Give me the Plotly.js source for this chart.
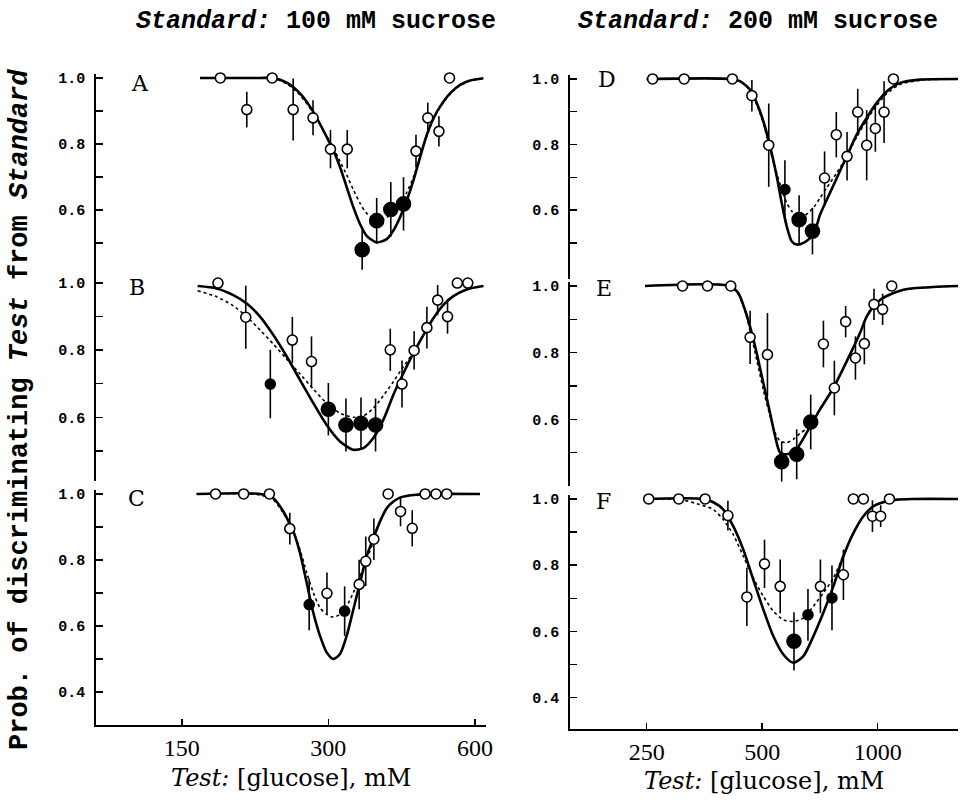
<!DOCTYPE html>
<html>
<head>
<meta charset="utf-8">
<script src="https://cdn.plot.ly/plotly-3.0.1.min.js"></script>
<style>html,body{margin:0;padding:0;background:#fff}#plot{width:960px;height:800px}</style>
</head>
<body>
<div id="plot"></div>
<script>
// ---------- Panel A (Standard 100 mM sucrose) ----------
const aOpenX = [180, 204, 230, 254, 279, 303, 328, 454, 480, 506, 532];
const aOpenY = [1.0, 0.904, 1.0, 0.904, 0.879, 0.784, 0.784, 0.778, 0.879, 0.838, 1.0];
const aOpenErr = [0, 0.054, 0, 0.094, 0.053, 0.058, 0.058, 0.05, 0.046, 0.046, 0];
const aBigX = [352, 377, 403, 428];
const aBigY = [0.479, 0.567, 0.601, 0.618];
const aBigErr = [0.061, 0.069, 0.083, 0.081];
const aFitX = [163.5, 217.2, 231.3, 246.4, 262.4, 279.4, 297.6, 307.1, 317.0, 327.1, 337.6, 348.4, 359.6, 377.0, 395.3, 408.0, 421.0, 434.6, 448.5, 462.9, 477.5, 492.9, 508.7, 533.3, 559.1, 586.1, 624.3];
const aSolidY = [1.0, 1.0, 1.0, 0.986, 0.953, 0.897, 0.821, 0.781, 0.730, 0.669, 0.608, 0.557, 0.521, 0.501, 0.511, 0.537, 0.577, 0.628, 0.689, 0.760, 0.826, 0.877, 0.913, 0.953, 0.979, 0.992, 0.999];
const aDotY = [1.0, 1.0, 0.999, 0.982, 0.948, 0.894, 0.823, 0.788, 0.747, 0.706, 0.661, 0.620, 0.589, 0.570, 0.577, 0.596, 0.620, 0.653, 0.699, 0.760, 0.823, 0.874, 0.911, 0.951, 0.977, 0.991, 0.998];

// ---------- Panel B ----------
const bOpenX = [178, 203, 253, 277, 402, 425, 450, 478, 503, 527, 552, 580];
const bOpenY = [1.0, 0.898, 0.830, 0.766, 0.801, 0.699, 0.799, 0.867, 0.949, 0.900, 1.0, 1.0];
const bOpenErr = [0, 0.094, 0.069, 0.075, 0.063, 0.07, 0.057, 0.062, 0.045, 0.051, 0, 0];
const bBigX = [300, 326, 350, 375];
const bBigY = [0.624, 0.577, 0.582, 0.577];
const bBigErr = [0.078, 0.079, 0.077, 0.079];
const bSmallX = [228];
const bSmallY = [0.699];
const bSmallErr = [0.102];
const bFitX = [161.7, 176.9, 191.4, 203.9, 217.2, 231.3, 246.4, 262.4, 279.4, 297.6, 317.0, 337.6, 354.0, 371.1, 389.0, 408.0, 427.7, 448.5, 470.1, 492.9, 516.8, 541.7, 577.0, 624.3];
const bSolidY = [0.991, 0.984, 0.964, 0.939, 0.900, 0.845, 0.781, 0.711, 0.642, 0.577, 0.528, 0.503, 0.508, 0.538, 0.592, 0.667, 0.731, 0.791, 0.845, 0.895, 0.935, 0.961, 0.981, 0.991];
const bDotY = [0.977, 0.959, 0.932, 0.900, 0.860, 0.818, 0.773, 0.729, 0.684, 0.642, 0.612, 0.600, 0.604, 0.627, 0.664, 0.706, 0.751, 0.793, 0.845, 0.895, 0.935, 0.961, 0.981, 0.991];

// ---------- Panel C ----------
const cOpenX = [176, 201, 227, 250, 298, 347, 358, 372, 398, 422, 446, 474, 499, 525];
const cOpenY = [1.0, 1.0, 1.0, 0.895, 0.699, 0.726, 0.796, 0.863, 1.0, 0.947, 0.896, 1.0, 1.0, 1.0];
const cOpenErr = [0, 0, 0, 0.048, 0.063, 0.075, 0.075, 0.063, 0, 0.045, 0.055, 0, 0, 0];
const cSmallX = [274, 324];
const cSmallY = [0.665, 0.645];
const cSmallErr = [0.078, 0.075];
const cFitX = [160.9, 217.2, 231.3, 242.5, 254.2, 262.4, 270.8, 279.4, 288.4, 297.6, 307.1, 317.0, 327.1, 337.6, 348.4, 359.6, 371.1, 383.0, 395.3, 408.0, 421.0, 448.5, 492.9, 614.5];
const cSolidY = [1.0, 1.0, 0.987, 0.947, 0.886, 0.821, 0.731, 0.640, 0.570, 0.520, 0.500, 0.515, 0.570, 0.650, 0.731, 0.811, 0.866, 0.917, 0.957, 0.977, 0.989, 0.997, 1.0, 1.0];
const cDotY = [1.0, 0.997, 0.982, 0.942, 0.886, 0.831, 0.761, 0.701, 0.655, 0.635, 0.627, 0.635, 0.660, 0.701, 0.751, 0.801, 0.856, 0.917, 0.957, 0.977, 0.989, 0.997, 1.0, 1.0];

// ---------- Panel D (Standard 200 mM sucrose) ----------
const dOpenX = [259, 313, 418, 470, 520, 727, 780, 832, 887, 936, 986, 1039, 1099];
const dOpenY = [1.0, 1.0, 1.0, 0.949, 0.798, 0.698, 0.830, 0.764, 0.899, 0.798, 0.849, 0.899, 1.0];
const dOpenErr = [0, 0, 0, 0.048, 0.127, 0.081, 0.069, 0.074, 0.071, 0.107, 0.071, 0.094, 0];
const dBigX = [624, 676];
const dBigY = [0.571, 0.536];
const dBigErr = [0.074, 0.071];
const dSmallX = [573];
const dSmallY = [0.663];
const dSmallErr = [0.089];
const dFitX = [250.0, 412.2, 437.7, 464.8, 483.7, 503.4, 524.0, 545.5, 562.1, 579.2, 596.8, 615.0, 640.1, 679.6, 707.4, 736.2, 781.9, 830.2, 881.5, 935.9, 993.8, 1055.3, 1143.5, 1289.4, 1639];
const dSolidY = [1.0, 1.0, 0.993, 0.967, 0.927, 0.871, 0.795, 0.703, 0.622, 0.551, 0.505, 0.495, 0.500, 0.525, 0.586, 0.631, 0.697, 0.764, 0.830, 0.881, 0.927, 0.962, 0.988, 0.998, 1.0];
const dDotY = [1.0, 1.0, 0.993, 0.965, 0.922, 0.866, 0.785, 0.713, 0.663, 0.622, 0.597, 0.581, 0.581, 0.607, 0.637, 0.668, 0.713, 0.764, 0.823, 0.874, 0.919, 0.955, 0.983, 0.996, 1.0];

// ---------- Panel E ----------
const eOpenX = [310, 360, 414, 465, 516, 722, 771, 825, 875, 923, 978, 1030, 1088];
const eOpenY = [1.0, 1.0, 1.0, 0.846, 0.794, 0.826, 0.694, 0.893, 0.784, 0.827, 0.945, 0.930, 1.0];
const eOpenErr = [0, 0, 0, 0.080, 0.125, 0.07, 0.082, 0.047, 0.065, 0.062, 0.047, 0.047, 0];
const eBigX = [562, 615, 669];
const eBigY = [0.473, 0.495, 0.592];
const eBigErr = [0.06, 0.075, 0.082];
const eSolidX = [247.5, 412.2, 433.4, 451.1, 464.8, 483.7, 503.4, 524.0, 540.1, 556.6, 579.2, 615.0, 653.0, 707.4, 766.3, 830.2, 899.4, 935.9, 974.3, 1014, 1055.3, 1143.5, 1239, 1396.6, 1639];
const eSolidY = [1.0, 1.0, 0.978, 0.928, 0.878, 0.799, 0.709, 0.620, 0.550, 0.500, 0.495, 0.512, 0.560, 0.630, 0.694, 0.774, 0.859, 0.908, 0.938, 0.958, 0.970, 0.986, 0.993, 0.997, 1.0];
const eDotX = [247.5, 412.2, 433.4, 451.1, 464.8, 483.7, 503.4, 524.0, 540.1, 556.6, 579.2, 602.8, 627.4, 653.0, 707.4, 766.3, 830.2, 899.4, 935.9, 974.3, 1014, 1055.3, 1143.5, 1239, 1396.6, 1639];
const eDotY = [1.0, 1.0, 0.975, 0.923, 0.868, 0.779, 0.689, 0.610, 0.560, 0.535, 0.530, 0.540, 0.558, 0.572, 0.631, 0.694, 0.774, 0.859, 0.908, 0.938, 0.958, 0.970, 0.986, 0.993, 0.997, 1.0];

// ---------- Panel F ----------
const fOpenX = [253, 303, 355, 407, 456, 507, 557, 709, 814, 864, 918, 969, 1018, 1073];
const fOpenY = [1.0, 1.0, 1.0, 0.950, 0.704, 0.804, 0.736, 0.736, 0.771, 1.0, 1.0, 0.948, 0.948, 1.0];
const fOpenErr = [0, 0, 0, 0.045, 0.088, 0.073, 0.081, 0.081, 0.076, 0, 0, 0.048, 0.033, 0];
const fBigX = [605];
const fBigY = [0.570];
const fBigErr = [0.088];
const fSmallX = [658, 760];
const fSmallY = [0.650, 0.701];
const fSmallErr = [0.078, 0.098];
const fSolidX = [245.1, 351.3, 372.9, 396.0, 420.5, 446.4, 474.0, 503.4, 534.6, 567.7, 602.8, 640.1, 679.6, 721.6, 766.3, 813.7, 864.2, 917.6, 974.3, 1034.4, 1120.9, 1238.4, 1639];
const fSolidY = [1.0, 1.0, 0.990, 0.968, 0.917, 0.847, 0.756, 0.666, 0.585, 0.530, 0.505, 0.525, 0.585, 0.656, 0.736, 0.827, 0.897, 0.948, 0.978, 0.990, 0.998, 1.0, 1.0];
const fDotX = [245.1, 305.2, 337.5, 372.9, 396.0, 420.5, 446.4, 474.0, 503.4, 534.6, 567.7, 602.8, 640.1, 679.6, 721.6, 766.3, 813.7, 864.2, 917.6, 974.3, 1034.4, 1120.9, 1238.4, 1639];
const fDotY = [1.0, 0.998, 0.986, 0.968, 0.937, 0.892, 0.827, 0.761, 0.706, 0.661, 0.635, 0.630, 0.640, 0.676, 0.716, 0.761, 0.829, 0.897, 0.948, 0.978, 0.990, 0.998, 1.0, 1.0];

// ---------- Tick labels / text ----------
const leftTickVals = [150, 300, 600];
const leftTickText = ['150', '300', '600'];
const rightTickVals = [250, 500, 1000];
const rightTickText = ['250', '500', '1000'];
const yTickValsTop = [0.5, 0.6, 0.7, 0.8, 0.9, 1.0];
const yTickTextTop = ['', '0.6', '', '0.8', '', '1.0'];
const yTickValsBottom = [0.4, 0.5, 0.6, 0.7, 0.8, 0.9, 1.0];
const yTickTextBottom = ['0.4', '', '0.6', '', '0.8', '', '1.0'];
const panelLetters = ['A', 'B', 'C', 'D', 'E', 'F'];

// ---------- build traces ----------
const traces = [];
function fit(x, y, ax, dotted) {
  traces.push({x: x, y: y, xaxis: ax[0], yaxis: ax[1], mode: 'lines', type: 'scatter',
    line: dotted ? {color: '#000', width: 1.6, dash: 'dot', shape: 'spline', smoothing: 0.7}
                 : {color: '#000', width: 2.6, shape: 'spline', smoothing: 0.7},
    hoverinfo: 'skip'});
}
function pts(x, y, e, ax, kind) {
  const open = kind === 'open';
  traces.push({x: x, y: y, xaxis: ax[0], yaxis: ax[1], mode: 'markers', type: 'scatter', cliponaxis: false,
    error_y: {type: 'data', array: e, visible: true, color: '#000', thickness: 1.6, width: 0},
    marker: {symbol: 'circle', size: open ? 10 : (kind === 'big' ? 14 : 10),
      color: open ? '#fff' : '#000', line: {color: '#000', width: 1.6}}});
}
const axA = ['x', 'y'], axB = ['x2', 'y2'], axC = ['x3', 'y3'], axD = ['x4', 'y4'], axE = ['x5', 'y5'], axF = ['x6', 'y6'];
fit(aFitX, aDotY, axA, true); fit(aFitX, aSolidY, axA, false);
pts(aOpenX, aOpenY, aOpenErr, axA, 'open'); pts(aBigX, aBigY, aBigErr, axA, 'big');
fit(bFitX, bDotY, axB, true); fit(bFitX, bSolidY, axB, false);
pts(bOpenX, bOpenY, bOpenErr, axB, 'open'); pts(bBigX, bBigY, bBigErr, axB, 'big'); pts(bSmallX, bSmallY, bSmallErr, axB, 'small');
fit(cFitX, cDotY, axC, true); fit(cFitX, cSolidY, axC, false);
pts(cOpenX, cOpenY, cOpenErr, axC, 'open'); pts(cSmallX, cSmallY, cSmallErr, axC, 'small');
fit(dFitX, dDotY, axD, true); fit(dFitX, dSolidY, axD, false);
pts(dOpenX, dOpenY, dOpenErr, axD, 'open'); pts(dBigX, dBigY, dBigErr, axD, 'big'); pts(dSmallX, dSmallY, dSmallErr, axD, 'small');
fit(eDotX, eDotY, axE, true); fit(eSolidX, eSolidY, axE, false);
pts(eOpenX, eOpenY, eOpenErr, axE, 'open'); pts(eBigX, eBigY, eBigErr, axE, 'big');
fit(fDotX, fDotY, axF, true); fit(fSolidX, fSolidY, axF, false);
pts(fOpenX, fOpenY, fOpenErr, axF, 'open'); pts(fBigX, fBigY, fBigErr, axF, 'big'); pts(fSmallX, fSmallY, fSmallErr, axF, 'small');

// ---------- layout ----------
const W = 960, H = 800;
const px = v => v / W, py = v => 1 - v / H;
const leftDom = [px(96), px(486)], rightDom = [px(570), px(958)];
const leftRange = [2, 2.8008], rightRange = [2.198, 3.2093];
const tickFontY = {family: 'Liberation Mono', size: 15, color: '#000', weight: 'bold'};
const tickFontX = {family: 'Liberation Serif', size: 24, color: '#000'};

function xHidden(dom, rng, anchor) {
  return {type: 'log', domain: dom, range: rng, anchor: anchor, showline: false, showgrid: false,
    zeroline: false, showticklabels: false, ticks: ''};
}
function xShown(dom, rng, anchor, tv, tt) {
  return {type: 'log', domain: dom, range: rng, anchor: anchor, showline: true, linecolor: '#000', linewidth: 1.8,
    showgrid: false, zeroline: false, ticks: 'inside', ticklen: 6, tickwidth: 1.5, tickcolor: '#000',
    tickvals: tv, ticktext: tt, tickfont: tickFontX, ticklabelstandoff: 0};
}
function yAx(dom, rng, anchor, tv, tt) {
  return {domain: dom, range: rng, anchor: anchor, showline: true, linecolor: '#000', linewidth: 1.8,
    showgrid: false, zeroline: false, ticks: 'inside', ticklen: 7, tickwidth: 1.5, tickcolor: '#000',
    tickvals: tv, ticktext: tt, tickfont: tickFontY, ticklabelstandoff: 6};
}

const letterPos = [[140, 83], [137, 287], [136, 498], [607, 79], [604, 288], [603, 501]];
const annotations = panelLetters.map((L, i) => ({
  text: L, xref: 'paper', yref: 'paper', x: px(letterPos[i][0]), y: py(letterPos[i][1]),
  xanchor: 'center', yanchor: 'middle', showarrow: false,
  font: {family: 'DejaVu Serif', size: 22, color: '#000'}
}));
annotations.push(
  {text: '<i>Standard:</i> 100 mM sucrose', xref: 'paper', yref: 'paper', x: px(316), y: py(22),
   xanchor: 'center', yanchor: 'middle', showarrow: false,
   font: {family: 'Liberation Mono', size: 25, color: '#000', weight: 'bold'}},
  {text: '<i>Standard:</i> 200 mM sucrose', xref: 'paper', yref: 'paper', x: px(758), y: py(22),
   xanchor: 'center', yanchor: 'middle', showarrow: false,
   font: {family: 'Liberation Mono', size: 25, color: '#000', weight: 'bold'}},
  {text: 'Prob. of discriminating <i>Test</i> from <i>Standard</i>', xref: 'paper', yref: 'paper',
   x: px(20), y: py(410), xanchor: 'center', yanchor: 'middle', textangle: -90, showarrow: false,
   font: {family: 'Liberation Mono', size: 27, color: '#000', weight: 'bold'}},
  {text: '<i>Test:</i> [glucose], mM', xref: 'paper', yref: 'paper', x: px(291), y: py(778),
   xanchor: 'center', yanchor: 'middle', showarrow: false,
   font: {family: 'DejaVu Serif', size: 24, color: '#000'}},
  {text: '<i>Test:</i> [glucose], mM', xref: 'paper', yref: 'paper', x: px(764), y: py(781),
   xanchor: 'center', yanchor: 'middle', showarrow: false,
   font: {family: 'DejaVu Serif', size: 24, color: '#000'}}
);

const layout = {
  width: W, height: H, margin: {l: 0, r: 0, t: 0, b: 0},
  paper_bgcolor: '#fff', plot_bgcolor: 'rgba(0,0,0,0)', showlegend: false,
  xaxis: xHidden(leftDom, leftRange, 'y'),
  yaxis: yAx([py(279), py(74)], [0.39, 1.012], 'x', yTickValsTop, yTickTextTop),
  xaxis2: xHidden(leftDom, leftRange, 'y2'),
  yaxis2: yAx([py(481), py(279)], [0.41, 1.012], 'x2', yTickValsTop, yTickTextTop),
  xaxis3: xShown(leftDom, leftRange, 'y3', leftTickVals, leftTickText),
  yaxis3: yAx([py(725), py(490)], [0.3, 1.012], 'x3', yTickValsBottom, yTickTextBottom),
  xaxis4: xHidden(rightDom, rightRange, 'y4'),
  yaxis4: yAx([py(279), py(75)], [0.39, 1.012], 'x4', yTickValsTop, yTickTextTop),
  xaxis5: xHidden(rightDom, rightRange, 'y5'),
  yaxis5: yAx([py(486), py(282)], [0.4, 1.012], 'x5', yTickValsTop, yTickTextTop),
  xaxis6: xShown(rightDom, rightRange, 'y6', rightTickVals, rightTickText),
  yaxis6: yAx([py(729), py(495)], [0.305, 1.012], 'x6', yTickValsBottom, yTickTextBottom),
  annotations: annotations
};

Plotly.newPlot('plot', traces, layout, {staticPlot: true, displayModeBar: false});
</script>
</body>
</html>
